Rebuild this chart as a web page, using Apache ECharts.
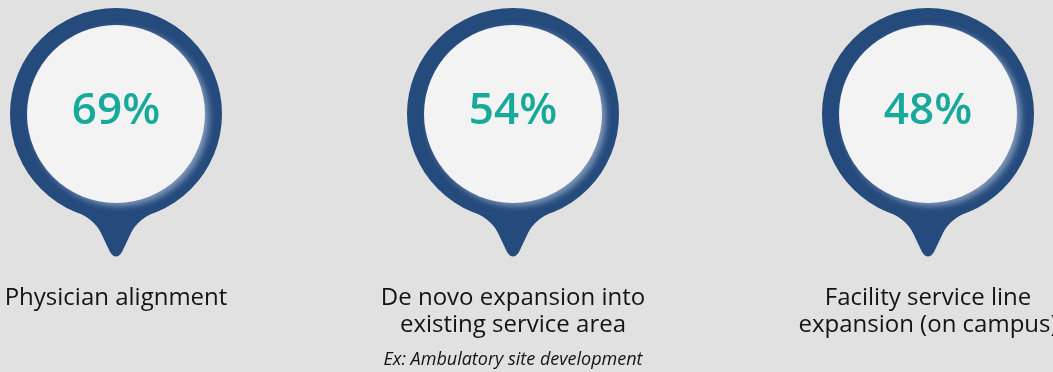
<!DOCTYPE html>
<html>
<head>
<meta charset="utf-8">
<script src="https://cdn.jsdelivr.net/npm/echarts@6/dist/echarts.min.js"></script>
<style>
  html, body { margin: 0; padding: 0; background: #e1e1e1; }
  #chart { width: 1053px; height: 372px; }
</style>
</head>
<body>
<div id="chart"></div>
<script>
// Survey results: share of respondents per growth strategy
const categories = [
  'Physician alignment',
  'De novo expansion into\nexisting service area',
  'Facility service line\nexpansion (on campus)'
];
const values = [69, 54, 48];
const notes = ['', 'Ex: Ambulatory site development', ''];

// Column layout: horizontal centre of each pin
const columnCenters = [116, 513, 928];

const PIN_BLUE = '#254a7c';
const DISC = '#f3f3f3';
const TEAL = '#17a999';
const FONT = "'Open Sans', 'Noto Sans', sans-serif";

const R_OUT = 106, R_IN = 89, CY = 114;

function tailPath(cx, cy) {
  const p = (dx, dy) => (cx + dx) + ' ' + (cy + dy);
  return 'M ' + p(-46, 95) +
    ' Q ' + p(-22, 104) + ' ' + p(-15, 119) +
    ' L ' + p(-6, 138) +
    ' Q ' + p(0, 147) + ' ' + p(6, 138) +
    ' L ' + p(15, 119) +
    ' Q ' + p(22, 104) + ' ' + p(46, 95) + ' Z';
}

function renderPin(params, api) {
  const cx = api.coord([api.value(0), 0])[0];
  const cy = params.coordSys.y + CY;
  const pct = api.value(1);
  const si = params.seriesIndex;
  const children = [
    { type: 'path', shape: { pathData: tailPath(cx, cy) }, style: { fill: PIN_BLUE } },
    { type: 'circle', shape: { cx: cx, cy: cy, r: R_OUT }, style: { fill: PIN_BLUE } },
    {
      type: 'circle', shape: { cx: cx, cy: cy, r: R_IN },
      style: {
        fill: DISC,
        shadowColor: 'rgba(190,205,228,0.6)',
        shadowBlur: 6, shadowOffsetX: 4, shadowOffsetY: 3
      }
    },
    {
      type: 'text',
      style: {
        text: pct + '%', x: cx, y: cy - 3,
        align: 'center', verticalAlign: 'middle',
        fill: TEAL, fontSize: 44, fontWeight: 600, fontFamily: FONT
      }
    },
    {
      type: 'text',
      style: {
        text: categories[si], x: cx, y: 284.5,
        align: 'center', verticalAlign: 'top', lineHeight: 27,
        fill: '#141414', fontSize: 24, fontFamily: FONT
      }
    }
  ];
  if (notes[si]) {
    children.push({
      type: 'text',
      style: {
        text: notes[si], x: cx, y: 360,
        align: 'center', verticalAlign: 'middle',
        fill: '#141414', fontSize: 18, fontStyle: 'italic', fontFamily: FONT
      }
    });
  }
  return { type: 'group', children: children };
}

const chart = echarts.init(document.getElementById('chart'), null, { renderer: 'canvas' });

const grids = [], xAxes = [], yAxes = [], series = [];
categories.forEach((cat, i) => {
  grids.push({ left: columnCenters[i] - 100, width: 200, top: 0, height: 372 });
  xAxes.push({ gridIndex: i, type: 'category', data: [cat], show: false });
  yAxes.push({ gridIndex: i, type: 'value', min: 0, max: 100, show: false });
  series.push({
    type: 'custom',
    xAxisIndex: i, yAxisIndex: i,
    renderItem: renderPin,
    clip: false,
    silent: true,
    data: [[0, values[i]]]
  });
});

chart.setOption({
  backgroundColor: '#e1e1e1',
  animation: false,
  grid: grids,
  xAxis: xAxes,
  yAxis: yAxes,
  series: series
});
</script>
</body>
</html>
